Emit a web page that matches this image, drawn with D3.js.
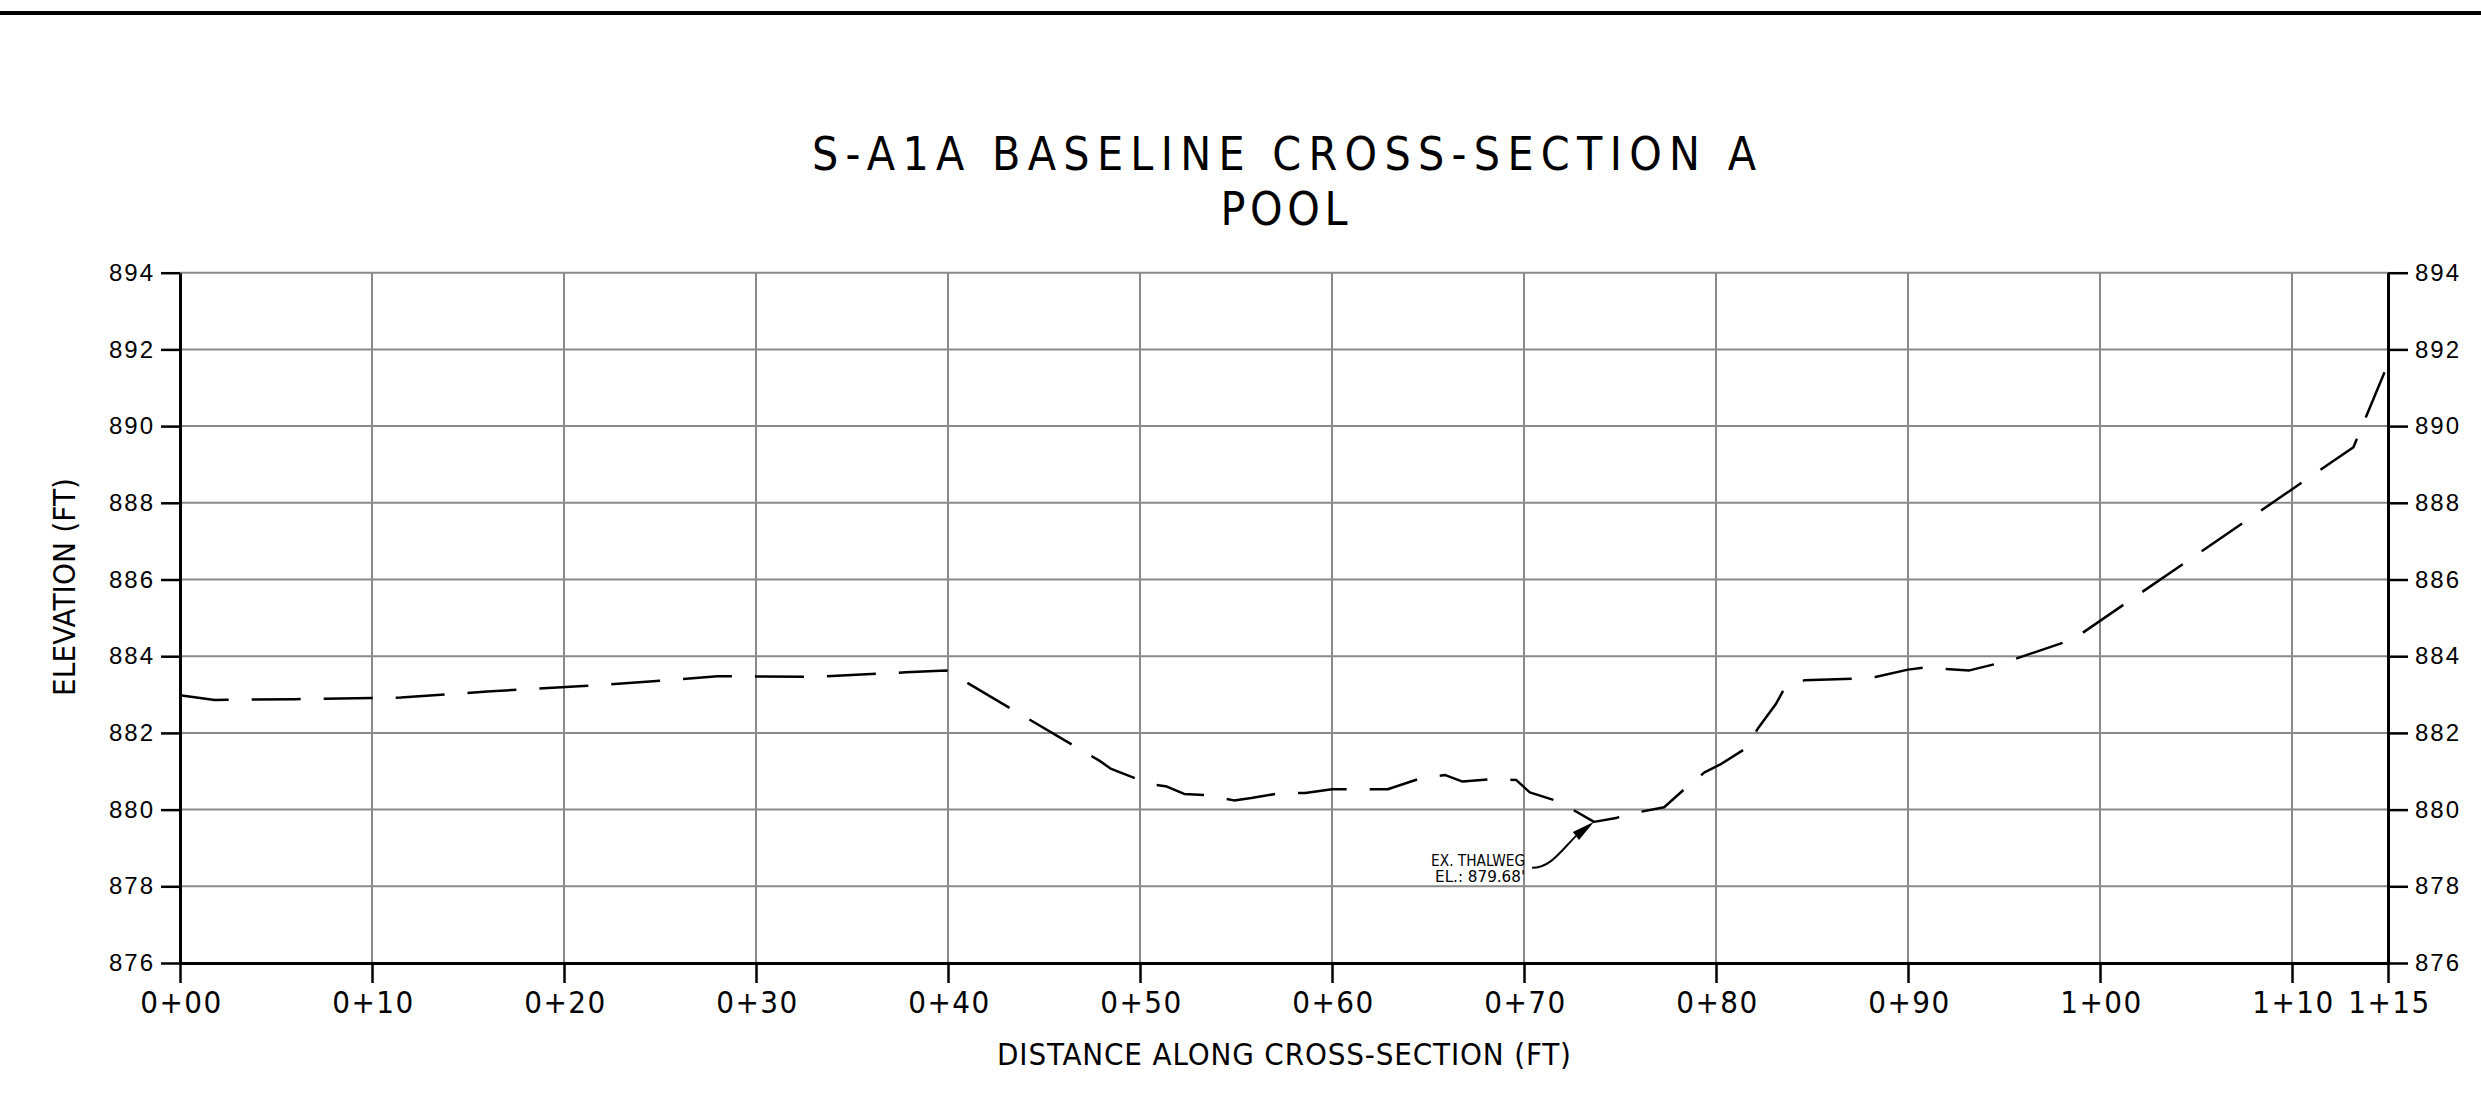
<!DOCTYPE html>
<html>

<head>
    <meta charset="utf-8">
    <script src="https://d3js.org/d3.v7.min.js"></script>
    <style>
        body { margin: 0; background: #fff; }
        .cad { font-family: 'DejaVu Sans', sans-serif; font-stretch: condensed; }
    </style>
    <script>
        // surveyed ground line, station (ft) / elevation (ft)
        const stations = [0, 1.8, 6, 11.5, 16, 21, 25, 28, 33, 37.8, 39.9, 47.9, 48.5, 50.5, 51.4, 52.3, 53.4, 54.9,
            55.8, 57.3, 58.6, 60.0, 61.1, 62.9, 64.7, 65.9, 66.8, 68.4, 69.6, 70.3, 71.8, 73.65, 74.8, 75.2, 77.3,
            78.5, 79.4, 80.2, 81.6, 82.2, 83.1, 83.6, 84.6, 87.1, 88.3, 90.0, 90.8, 93.2, 94.5, 95.7, 98.6, 113.2, 115];
        const elevations = [882.98, 882.86, 882.88, 882.92, 883.08, 883.22, 883.36, 883.48, 883.46, 883.58, 883.63,
            881.27, 881.06, 880.67, 880.60, 880.41, 880.38, 880.24, 880.30, 880.43, 880.43, 880.53, 880.53, 880.53,
            880.83, 880.90, 880.73, 880.80, 880.77, 880.45, 880.21, 879.68, 879.78, 879.86, 880.06, 880.60, 880.97,
            881.17, 881.61, 882.13, 882.74, 883.19, 883.37, 883.41, 883.46, 883.65, 883.70, 883.63, 883.79, 883.95,
            884.44, 889.45, 891.62];

        const xTicks = [0, 10, 20, 30, 40, 50, 60, 70, 80, 90, 100, 110, 115];
        const yTicks = [876, 878, 880, 882, 884, 886, 888, 890, 892, 894];

        const thalweg = { sta: 73.65, el: 879.68, lines: ["EX. THALWEG", "EL.: 879.68'"] };

        const titleLines = ["S-A1A BASELINE CROSS-SECTION A", "POOL"];
        const xTitle = "DISTANCE ALONG CROSS-SECTION (FT)";
        const yTitle = "ELEVATION (FT)";

        let width = 2481;
        let height = 1101;
        let plotLeft = 180, plotRight = 2388, plotTop = 272.7, plotBottom = 963;

        function station(d) {
            let n = Math.round(d);
            return Math.floor(n / 100) + "+" + String(n % 100).padStart(2, "0");
        }

        function draw() {
            let svg = d3.select('body').append('svg')
                .attr('width', width)
                .attr('height', height);

            let x = d3.scaleLinear().domain([0, 115]).range([plotLeft, plotRight]);
            let y = d3.scaleLinear().domain([876, 894]).range([plotBottom, plotTop]);

            // sheet border line at top
            svg.append("line")
                .attr("x1", 0).attr("x2", width)
                .attr("y1", 13).attr("y2", 13)
                .attr("stroke", "#000").attr("stroke-width", 4);

            // grid
            svg.append("g").selectAll("line")
                .data(xTicks.filter(d => d > 0 && d < 115))
                .join("line")
                .attr("x1", d => x(d)).attr("x2", d => x(d))
                .attr("y1", y(876)).attr("y2", y(894))
                .attr("stroke", "#8a8a8a").attr("stroke-width", 2);
            svg.append("g").selectAll("line")
                .data(yTicks.filter(d => d > 876))
                .join("line")
                .attr("x1", x(0)).attr("x2", x(115))
                .attr("y1", d => y(d)).attr("y2", d => y(d))
                .attr("stroke", "#8a8a8a").attr("stroke-width", 2);

            // axes
            let gx = svg.append("g")
                .attr("transform", "translate(0," + plotBottom + ")")
                .call(d3.axisBottom(x).tickValues(xTicks).tickFormat(station)
                    .tickSize(20).tickSizeOuter(0).tickPadding(8));
            gx.selectAll("text")
                .attr("class", "cad")
                .style("font-size", "31px")
                .style("letter-spacing", "1.5px")
                .attr("dx", "1px")
                .attr("fill", "#000");

            let gl = svg.append("g")
                .attr("transform", "translate(" + plotLeft + ",0)")
                .call(d3.axisLeft(y).tickValues(yTicks).tickSize(19).tickSizeOuter(0).tickPadding(6));
            let gr = svg.append("g")
                .attr("transform", "translate(" + plotRight + ",0)")
                .call(d3.axisRight(y).tickValues(yTicks).tickSize(20).tickSizeOuter(0).tickPadding(7));
            [gl, gr].forEach(g => g.selectAll("text")
                .style("font-family", "'Liberation Sans', Arial, sans-serif")
                .style("font-size", "24px")
                .style("letter-spacing", "2px")
                .attr("fill", "#000"));

            [gx, gl, gr].forEach(g => {
                g.select(".domain").attr("stroke", "#000").attr("stroke-width", 3);
                g.selectAll(".tick line").attr("stroke", "#000").attr("stroke-width", 2.5);
            });

            // ground line
            let pts = stations.map((s, i) => [s, elevations[i]]);
            svg.append("path")
                .datum(pts)
                .attr("d", d3.line().x(d => x(d[0])).y(d => y(d[1])))
                .attr("fill", "none")
                .attr("stroke", "#000")
                .attr("stroke-width", 2.5)
                .attr("stroke-dasharray", "49,23")
                .attr("stroke-linejoin", "round");

            // thalweg callout
            let tx = x(thalweg.sta), ty = y(thalweg.el);
            let sx = tx - 62, sy = ty + 46;
            let bx = tx - 18, by = ty + 14;
            svg.append("path")
                .attr("d", `M${sx},${sy} C${sx + 18},${sy} ${sx + 28},${sy - 16} ${bx},${by}`)
                .attr("fill", "none").attr("stroke", "#000").attr("stroke-width", 2);
            let ang = Math.atan2(ty - by, tx - bx);
            let hw = 5, len = 23;
            let bx2 = tx - len * Math.cos(ang), by2 = ty - len * Math.sin(ang);
            svg.append("path")
                .attr("d", `M${tx},${ty} L${bx2 - hw * Math.sin(ang)},${by2 + hw * Math.cos(ang)} L${bx2 + hw * Math.sin(ang)},${by2 - hw * Math.cos(ang)} Z`)
                .attr("fill", "#000");
            svg.append("g").selectAll("text")
                .data(thalweg.lines)
                .join("text")
                .attr("class", "cad")
                .attr("x", sx - 7)
                .attr("y", (d, i) => sy - 2 + i * 16)
                .attr("text-anchor", "end")
                .attr("textLength", (d, i) => i == 0 ? 94 : 90)
                .attr("lengthAdjust", "spacingAndGlyphs")
                .style("font-size", "16px")
                .style("font-weight", "500")
                .text(d => d);

            // titles
            svg.append("g").selectAll("text")
                .data(titleLines)
                .join("text")
                .attr("class", "cad")
                .attr("x", (plotLeft + plotRight) / 2)
                .attr("y", (d, i) => 170 + i * 55)
                .attr("text-anchor", "middle")
                .attr("textLength", (d, i) => i == 0 ? 944 : 127)
                .attr("lengthAdjust", "spacing")
                .style("font-size", "46px")
                .text(d => d);

            svg.append("text")
                .attr("class", "cad")
                .attr("x", (plotLeft + plotRight) / 2)
                .attr("y", 1065)
                .attr("text-anchor", "middle")
                .attr("textLength", 574)
                .attr("lengthAdjust", "spacing")
                .style("font-size", "31px")
                .text(xTitle);

            svg.append("text")
                .attr("class", "cad")
                .attr("transform", "translate(75,587) rotate(-90)")
                .attr("text-anchor", "middle")
                .attr("textLength", 218)
                .attr("lengthAdjust", "spacing")
                .style("font-size", "31px")
                .text(yTitle);
        }
    </script>
</head>

<body>
    <script>
        draw();
    </script>
</body>

</html>
